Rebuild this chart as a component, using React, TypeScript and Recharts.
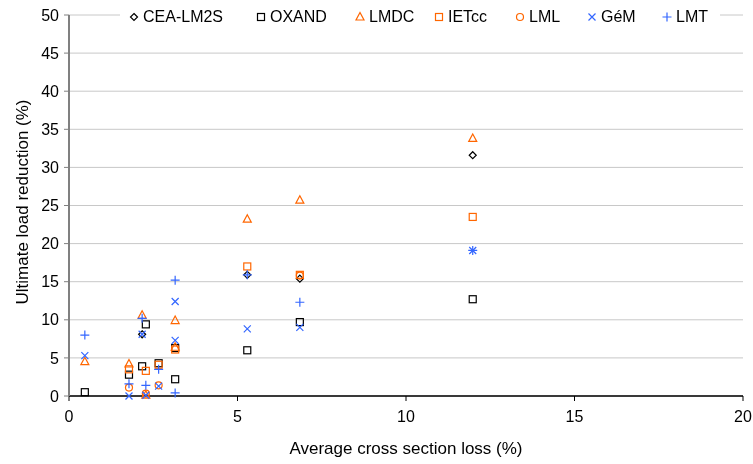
import React from "react";
import { ScatterChart, Scatter, XAxis, YAxis, CartesianGrid, Label } from "recharts";

// average cross section loss (%) vs ultimate load reduction (%)
const ceaLm2s = [
  { x: 2.17, y: 8.1 },
  { x: 5.29, y: 15.9 },
  { x: 6.85, y: 15.4 },
  { x: 11.98, y: 31.6 },
];
const oxand = [
  { x: 0.47, y: 0.5 },
  { x: 1.78, y: 2.8 },
  { x: 2.28, y: 9.4 },
  { x: 2.17, y: 3.9 },
  { x: 2.66, y: 4.3 },
  { x: 3.15, y: 6.3 },
  { x: 3.15, y: 2.2 },
  { x: 5.29, y: 6.0 },
  { x: 6.85, y: 9.7 },
  { x: 11.98, y: 12.7 },
];
const lmdc = [
  { x: 0.47, y: 4.5 },
  { x: 1.78, y: 4.2 },
  { x: 2.17, y: 10.6 },
  { x: 2.28, y: 0.1 },
  { x: 3.15, y: 9.9 },
  { x: 3.15, y: 6.4 },
  { x: 5.29, y: 23.2 },
  { x: 6.85, y: 25.7 },
  { x: 11.98, y: 33.8 },
];
const ietcc = [
  { x: 1.78, y: 3.5 },
  { x: 2.28, y: 3.3 },
  { x: 2.66, y: 4.1 },
  { x: 3.15, y: 6.1 },
  { x: 5.29, y: 17.0 },
  { x: 6.85, y: 15.9 },
  { x: 11.98, y: 23.5 },
];
const lml = [
  { x: 1.78, y: 1.1 },
  { x: 2.28, y: 0.3 },
  { x: 2.66, y: 1.4 },
  { x: 6.85, y: 15.8 },
];
const gem = [
  { x: 0.47, y: 5.3 },
  { x: 1.78, y: 0.0 },
  { x: 2.17, y: 8.1 },
  { x: 2.28, y: 0.1 },
  { x: 2.66, y: 1.3 },
  { x: 3.15, y: 12.4 },
  { x: 3.15, y: 7.3 },
  { x: 5.29, y: 8.8 },
  { x: 6.85, y: 9.0 },
  { x: 11.98, y: 19.1 },
];
const lmt = [
  { x: 0.47, y: 8.0 },
  { x: 1.78, y: 1.6 },
  { x: 2.17, y: 10.2 },
  { x: 2.28, y: 1.4 },
  { x: 2.66, y: 3.5 },
  { x: 3.15, y: 15.2 },
  { x: 3.15, y: 0.4 },
  { x: 5.29, y: 15.9 },
  { x: 6.85, y: 12.3 },
  { x: 11.98, y: 19.1 },
];

const xTicks = [0, 5, 10, 15, 20];
const yTicks = [0, 5, 10, 15, 20, 25, 30, 35, 40, 45, 50];

const BLACK = "#000000";
const ORANGE = "#FF6600";
const BLUE = "#3366FF";
const FONT = "'Liberation Sans', Arial, sans-serif";

type Kind = "diamond" | "square" | "triangle" | "circle" | "cross" | "plus";

function Marker({ kind, color, cx, cy }: { kind: Kind; color: string; cx: number; cy: number }) {
  const s = 3.5;
  const common = { fill: "none", stroke: color, strokeWidth: 1.2 };
  switch (kind) {
    case "diamond":
      return <path d={`M${cx},${cy - s} L${cx + s},${cy} L${cx},${cy + s} L${cx - s},${cy} Z`} {...common} />;
    case "square":
      return <rect x={cx - s} y={cy - s} width={2 * s} height={2 * s} {...common} />;
    case "triangle":
      return <path d={`M${cx},${cy - 4.5} L${cx + 4},${cy + 3} L${cx - 4},${cy + 3} Z`} {...common} />;
    case "circle":
      return <circle cx={cx} cy={cy} r={s} {...common} />;
    case "cross":
      return <path d={`M${cx - s},${cy - s} L${cx + s},${cy + s} M${cx + s},${cy - s} L${cx - s},${cy + s}`} {...common} />;
    default:
      return <path d={`M${cx - 4.5},${cy} L${cx + 4.5},${cy} M${cx},${cy - 4.5} L${cx},${cy + 4.5}`} {...common} />;
  }
}

const series: { name: string; data: { x: number; y: number }[]; kind: Kind; color: string; legendX: number }[] = [
  { name: "CEA-LM2S", data: ceaLm2s, kind: "diamond", color: BLACK, legendX: 128 },
  { name: "OXAND", data: oxand, kind: "square", color: BLACK, legendX: 255 },
  { name: "LMDC", data: lmdc, kind: "triangle", color: ORANGE, legendX: 354 },
  { name: "IETcc", data: ietcc, kind: "square", color: ORANGE, legendX: 433 },
  { name: "LML", data: lml, kind: "circle", color: ORANGE, legendX: 514 },
  { name: "GéM", data: gem, kind: "cross", color: BLUE, legendX: 586 },
  { name: "LMT", data: lmt, kind: "plus", color: BLUE, legendX: 661 },
];

export default function App() {
  return (
    <div style={{ position: "fixed", left: 0, top: 0, width: 753, height: 464, fontFamily: FONT }}>
      <ScatterChart width={753} height={464} margin={{ top: 15, right: 10, bottom: 0, left: 0 }}>
        <CartesianGrid vertical={false} stroke="#c8c8c8" strokeWidth={1} />
        <XAxis
          type="number"
          dataKey="x"
          domain={[0, 20]}
          ticks={xTicks}
          height={68}
          tickSize={5}
          tickMargin={10}
          stroke={BLACK}
          tick={{ fill: BLACK, fontSize: 16, fontFamily: FONT }}
          axisLine={{ stroke: BLACK, strokeWidth: 1.5 }}
          tickLine={{ stroke: BLACK }}
        >
          <Label
            content={() => (
              <text x={406} y={454} textAnchor="middle" fontSize={17} fontFamily={FONT} fill={BLACK}>
                Average cross section loss (%)
              </text>
            )}
          />
        </XAxis>
        <YAxis
          type="number"
          dataKey="y"
          domain={[0, 50]}
          ticks={yTicks}
          width={69}
          tickSize={5}
          tickMargin={5}
          tick={{ fill: BLACK, fontSize: 16, fontFamily: FONT }}
          axisLine={{ stroke: "#808080", strokeWidth: 2 }}
          tickLine={{ stroke: "#808080" }}
        >
          <Label
            content={() => (
              <text
                x={22}
                y={202}
                textAnchor="middle"
                dominantBaseline="central"
                transform="rotate(-90 22 202)"
                fontSize={17}
                fontFamily={FONT}
                fill={BLACK}
              >
                Ultimate load reduction (%)
              </text>
            )}
          />
        </YAxis>
        {series.map((s) => (
          <Scatter
            key={s.name}
            name={s.name}
            data={s.data}
            isAnimationActive={false}
            shape={(p: any) => <Marker kind={s.kind} color={s.color} cx={p.cx} cy={p.cy} />}
          />
        ))}
      </ScatterChart>
      <div
        style={{
          position: "absolute",
          left: 120,
          top: 7,
          width: 600,
          height: 20,
          background: "#fff",
        }}
      >
        {series.map((s) => (
          <div
            key={s.name}
            style={{
              position: "absolute",
              left: s.legendX - 120,
              top: 0,
              height: 20,
              display: "flex",
              alignItems: "center",
              fontSize: 16,
              whiteSpace: "nowrap",
              color: BLACK,
            }}
          >
            <svg width={12} height={12} style={{ marginRight: 3 }}>
              <Marker kind={s.kind} color={s.color} cx={6} cy={6} />
            </svg>
            {s.name}
          </div>
        ))}
      </div>
    </div>
  );
}
